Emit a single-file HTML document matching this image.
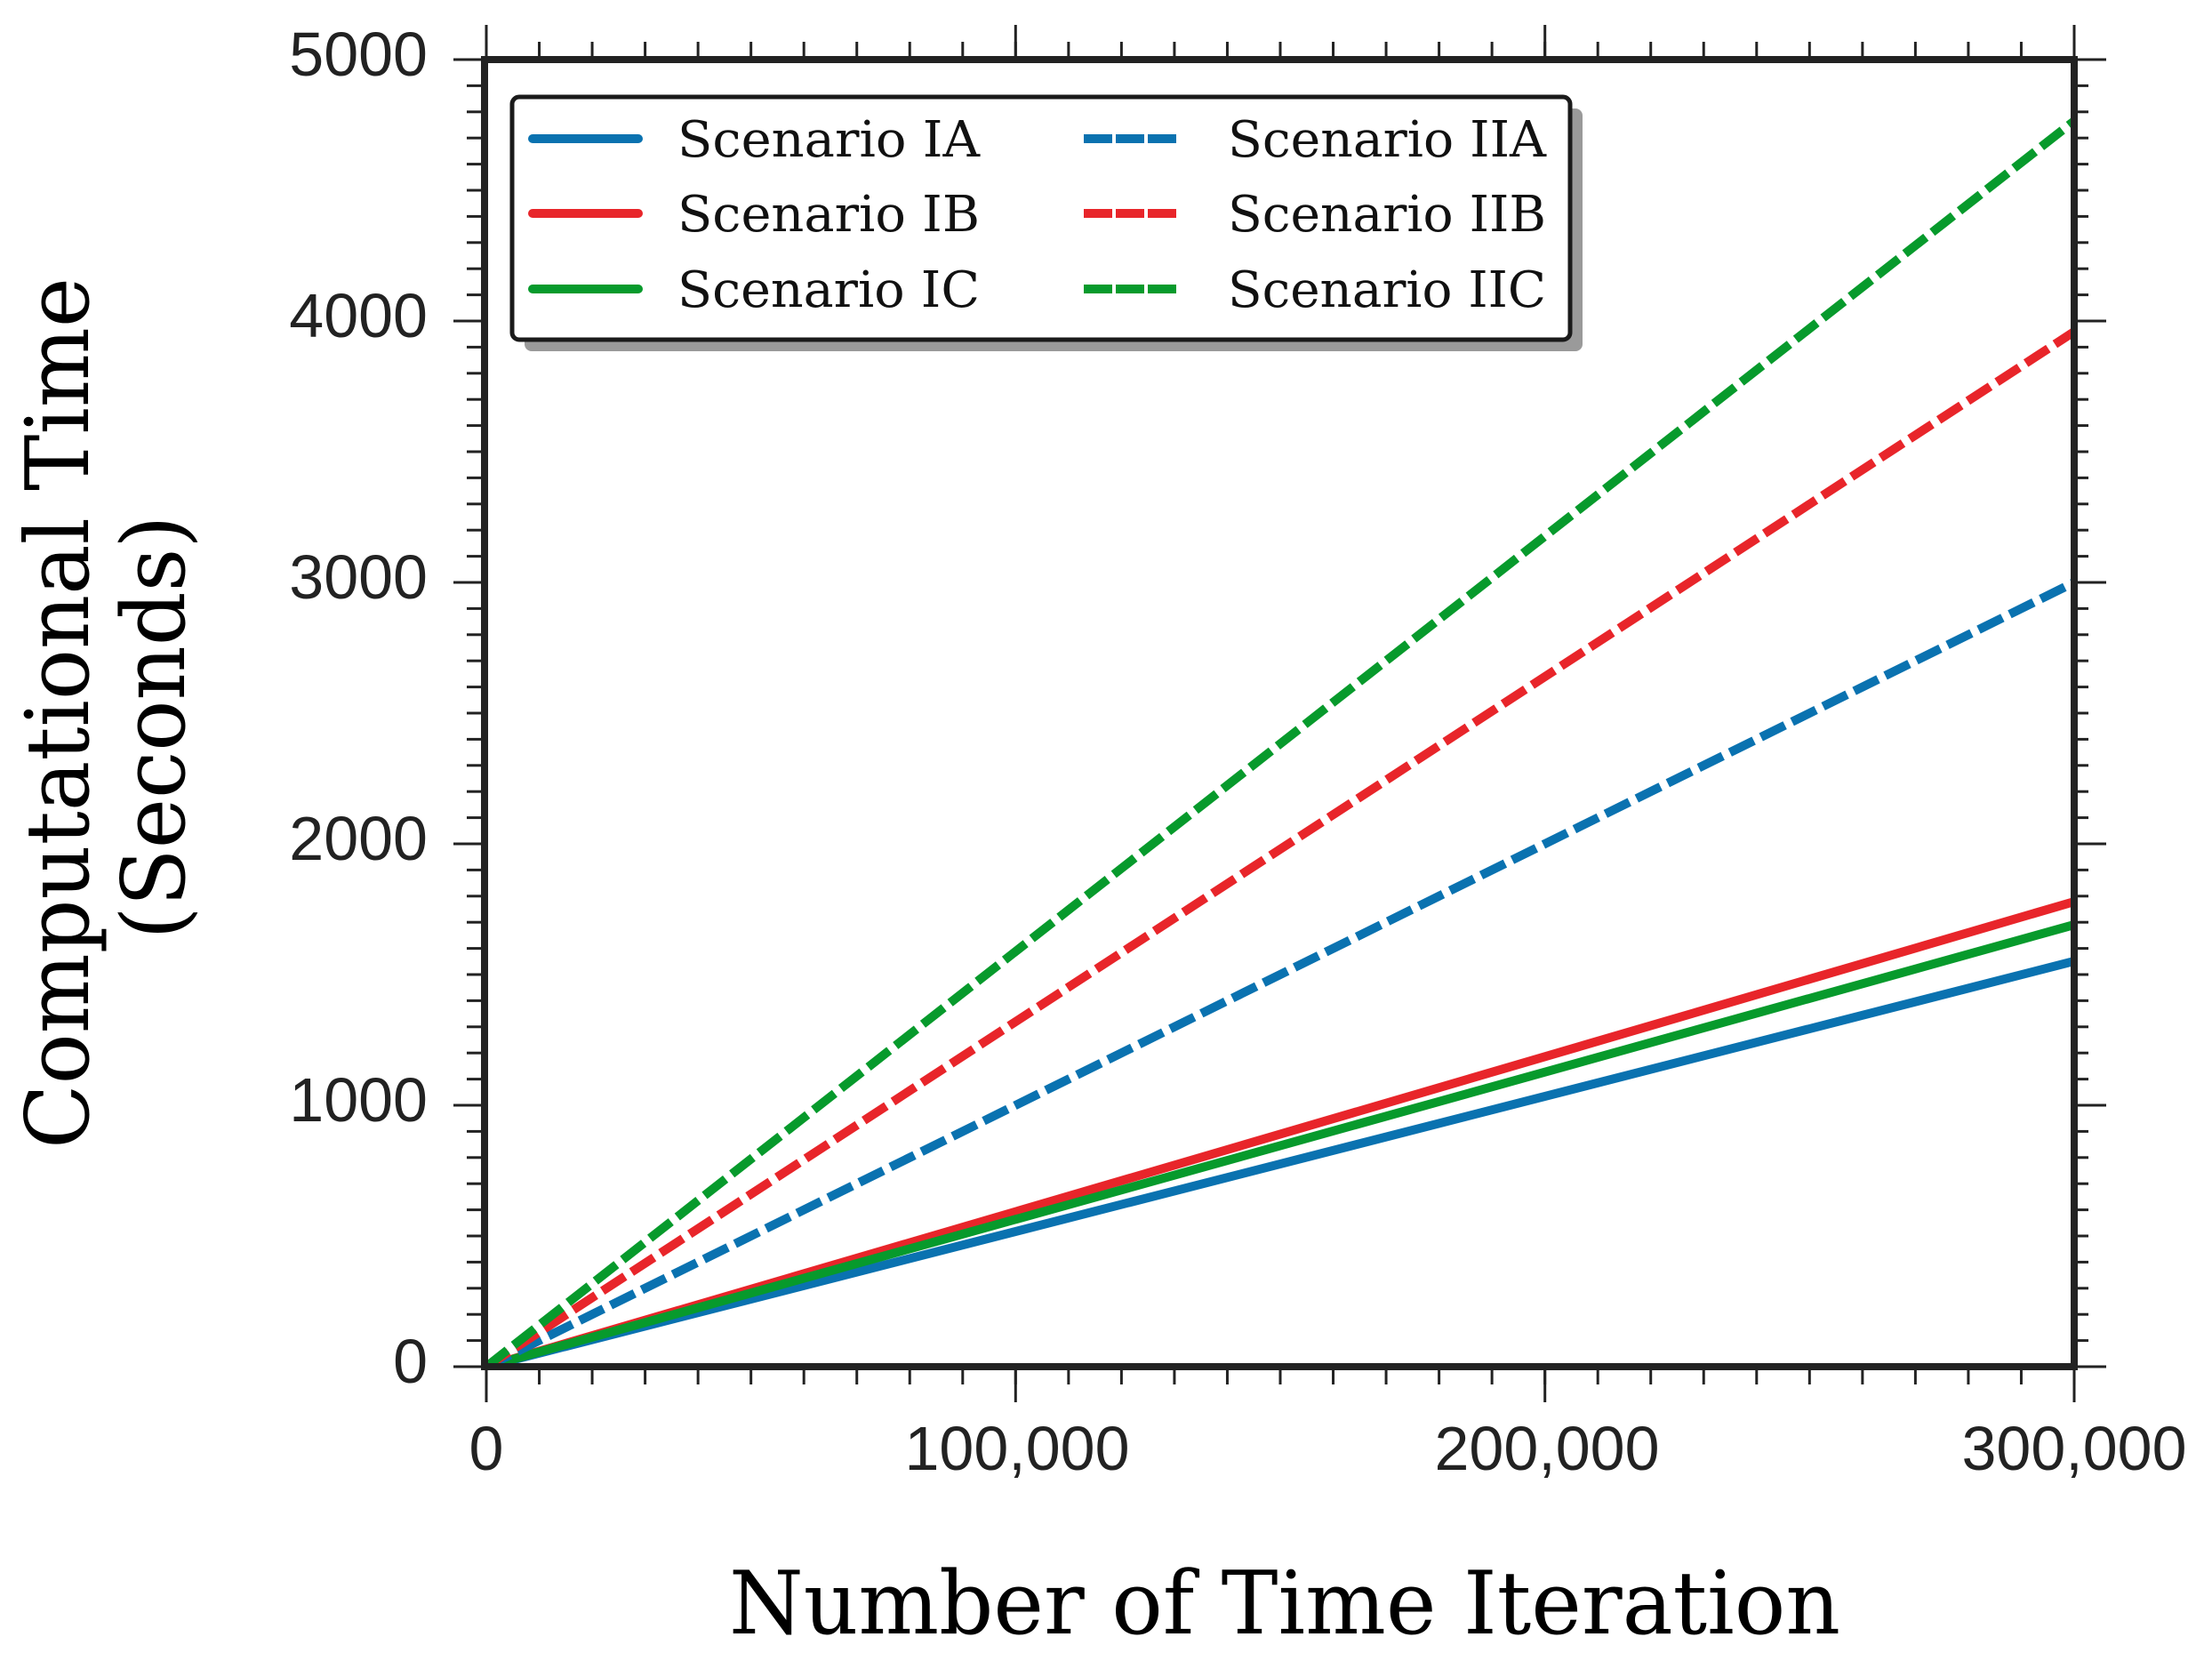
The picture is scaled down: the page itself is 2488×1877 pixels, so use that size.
<!DOCTYPE html>
<html><head><meta charset="utf-8"><style>html,body{margin:0;padding:0;background:#fff}svg{display:block}</style></head>
<body>
<svg width="2488" height="1877" viewBox="0 0 2488 1877" xmlns="http://www.w3.org/2000/svg">
<defs>
<clipPath id="c"><rect x="545" y="67" width="1788" height="1470"/></clipPath>
<pattern id="px" patternUnits="userSpaceOnUse" x="545.5" y="0" width="59.533" height="20"><rect x="0" y="0" width="3" height="20" fill="#222"/></pattern>
<pattern id="py" patternUnits="userSpaceOnUse" x="0" y="65.5" width="20" height="29.4"><rect x="0" y="0" width="20" height="3" fill="#222"/></pattern>
</defs>
<!-- minor ticks -->
<rect x="544" y="1537" width="1792" height="20" fill="url(#px)"/>
<rect x="544" y="47" width="1792" height="20" fill="url(#px)"/>
<rect x="525" y="64" width="20" height="1476" fill="url(#py)"/>
<rect x="2333" y="64" width="16" height="1476" fill="url(#py)"/>
<!-- major ticks -->
<g stroke="#222" stroke-width="3">
<line x1="547" y1="1537" x2="547" y2="1577"/><line x1="1142.3" y1="1537" x2="1142.3" y2="1577"/><line x1="1737.7" y1="1537" x2="1737.7" y2="1577"/><line x1="2333" y1="1537" x2="2333" y2="1577"/>
<line x1="547" y1="67" x2="547" y2="28"/><line x1="1142.3" y1="67" x2="1142.3" y2="28"/><line x1="1737.7" y1="67" x2="1737.7" y2="28"/><line x1="2333" y1="67" x2="2333" y2="28"/>
<line x1="545" y1="1537" x2="510" y2="1537"/><line x1="545" y1="1243" x2="510" y2="1243"/><line x1="545" y1="949" x2="510" y2="949"/><line x1="545" y1="655" x2="510" y2="655"/><line x1="545" y1="361" x2="510" y2="361"/><line x1="545" y1="67" x2="510" y2="67"/>
<line x1="2333" y1="1537" x2="2369" y2="1537"/><line x1="2333" y1="1243" x2="2369" y2="1243"/><line x1="2333" y1="949" x2="2369" y2="949"/><line x1="2333" y1="655" x2="2369" y2="655"/><line x1="2333" y1="361" x2="2369" y2="361"/><line x1="2333" y1="67" x2="2369" y2="67"/>
</g>
<g clip-path="url(#c)" fill="none" stroke-width="10">
<line x1="547" y1="1537" x2="2333" y2="1081" stroke="#0a72b0"/>
<line x1="547" y1="1537" x2="2333" y2="1014" stroke="#e8252a"/>
<line x1="547" y1="1537" x2="2333" y2="1040" stroke="#079a2c"/>
<line x1="547" y1="1537" x2="2333" y2="655" stroke="#0a72b0" stroke-dasharray="30 9"/>
<line x1="547" y1="1537" x2="2333" y2="373" stroke="#e8252a" stroke-dasharray="30 9"/>
<line x1="547" y1="1537" x2="2333" y2="136" stroke="#079a2c" stroke-dasharray="30 9"/>
</g>
<rect x="545" y="67" width="1788" height="1470" fill="none" stroke="#222" stroke-width="8"/>
<!-- legend -->
<rect x="590" y="122" width="1190" height="273" rx="8" fill="#9a9a9a"/>
<rect x="576" y="109" width="1190" height="273" rx="8" fill="#fff" stroke="#1a1a1a" stroke-width="5"/>
<g stroke-width="10" stroke-linecap="butt">
<line x1="599" y1="156" x2="718" y2="156" stroke="#0a72b0" stroke-linecap="round"/>
<line x1="599" y1="240" x2="718" y2="240" stroke="#e8252a" stroke-linecap="round"/>
<line x1="599" y1="325" x2="718" y2="325" stroke="#079a2c" stroke-linecap="round"/>
<line x1="1219" y1="156" x2="1324" y2="156" stroke="#0a72b0" stroke-dasharray="32 4"/>
<line x1="1219" y1="240" x2="1324" y2="240" stroke="#e8252a" stroke-dasharray="32 4"/>
<line x1="1219" y1="325" x2="1324" y2="325" stroke="#079a2c" stroke-dasharray="32 4"/>
</g>
<g font-family="'DejaVu Serif','Liberation Serif',serif" font-size="56" fill="#111">
<text x="762" y="176" textLength="340" lengthAdjust="spacingAndGlyphs">Scenario IA</text>
<text x="762" y="260" textLength="340" lengthAdjust="spacingAndGlyphs">Scenario IB</text>
<text x="762" y="345" textLength="340" lengthAdjust="spacingAndGlyphs">Scenario IC</text>
<text x="1381" y="176" textLength="358" lengthAdjust="spacingAndGlyphs">Scenario IIA</text>
<text x="1381" y="260" textLength="358" lengthAdjust="spacingAndGlyphs">Scenario IIB</text>
<text x="1381" y="345" textLength="358" lengthAdjust="spacingAndGlyphs">Scenario IIC</text>
</g>
<g font-family="'Liberation Sans',sans-serif" font-size="70" fill="#222" text-anchor="end">
<text x="481" y="85">5000</text>
<text x="481" y="379">4000</text>
<text x="481" y="673">3000</text>
<text x="481" y="967">2000</text>
<text x="481" y="1261">1000</text>
<text x="481" y="1555">0</text>
</g>
<g font-family="'Liberation Sans',sans-serif" font-size="70" fill="#222" text-anchor="middle">
<text x="547" y="1653">0</text>
<text x="1144" y="1653">100,000</text>
<text x="1740" y="1653">200,000</text>
<text x="2333" y="1653">300,000</text>
</g>
<text x="1445" y="1837" text-anchor="middle" font-family="'DejaVu Serif','Liberation Serif',serif" font-size="98" fill="#000" textLength="1250" lengthAdjust="spacingAndGlyphs">Number of Time Iteration</text>
<text transform="translate(99,802) rotate(-90)" text-anchor="middle" font-family="'DejaVu Serif','Liberation Serif',serif" font-size="98" fill="#000" textLength="980" lengthAdjust="spacingAndGlyphs">Computational Time</text>
<text transform="translate(207,818) rotate(-90)" text-anchor="middle" font-family="'DejaVu Serif','Liberation Serif',serif" font-size="98" fill="#000" textLength="477" lengthAdjust="spacingAndGlyphs">(Seconds)</text>
</svg>
</body></html>
